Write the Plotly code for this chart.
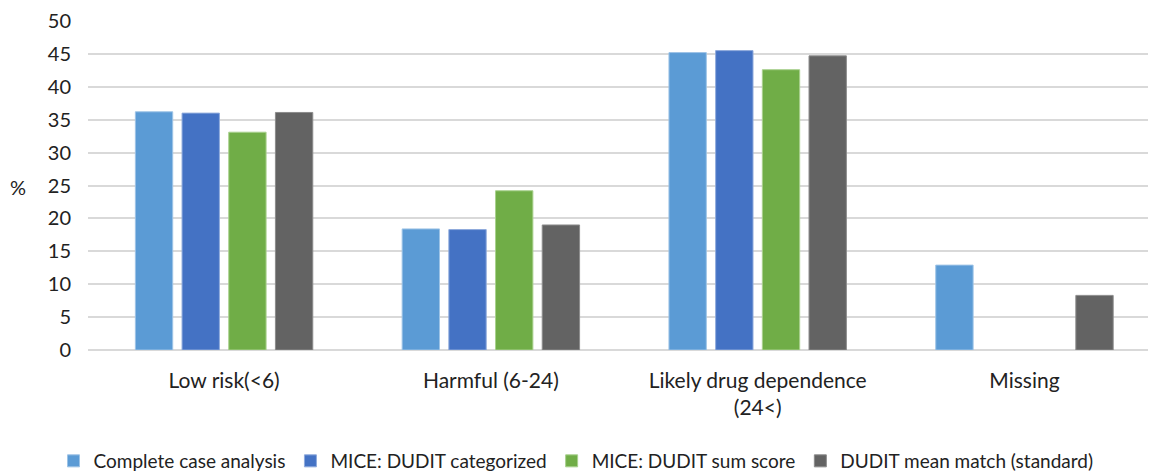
import plotly.graph_objects as go

categories = ["Low risk(<6)", "Harmful (6-24)", "Likely drug dependence<br>(24<)", "Missing"]
series_names = ["Complete case analysis", "MICE: DUDIT categorized", "MICE: DUDIT sum score", "DUDIT mean match (standard)"]
complete_case = [36.2, 18.4, 45.2, 12.9]
mice_categorized = [36.0, 18.3, 45.5, None]
mice_sum_score = [33.1, 24.2, 42.6, None]
mean_match = [36.1, 19.0, 44.7, 8.3]
colors = ["#5B9BD5", "#4472C4", "#70AD47", "#636363"]
edge_colors = ["#9DC3E6", "#8FAADC", "#A9D18E", "#8C8C8C"]
y_ticks = [0, 5, 10, 15, 20, 25, 30, 35, 40, 45, 50]

font_family = "Lato, Carlito, Calibri, sans-serif"

fig = go.Figure()
for name, vals, c, ec in zip(series_names, [complete_case, mice_categorized, mice_sum_score, mean_match], colors, edge_colors):
    fig.add_trace(go.Bar(x=categories, y=vals, name=name, marker=dict(color=c, line=dict(color=ec, width=1))))

plot_w = 1152 - 88 - 4
plot_h = 473 - 21 - 123

fig.update_layout(
    width=1152, height=473,
    barmode="group", bargap=0.3, bargroupgap=0.2,
    plot_bgcolor="white", paper_bgcolor="white",
    margin=dict(l=88, r=4, t=21, b=123, autoexpand=False),
    font=dict(family=font_family, size=20, color="#222222"),
    legend=dict(orientation="h", x=0.5, xanchor="center", xref="container",
                y=(473 - 461) / 473, yanchor="middle", yref="container",
                font=dict(size=19), itemwidth=30, tracegroupgap=0, itemclick=False),
    xaxis=dict(showgrid=False, showline=False, ticks="", tickfont=dict(size=21),
               ticklabelstandoff=16, range=[-0.51, 3.463]),
    yaxis=dict(range=[0, 50], tickvals=y_ticks, showgrid=True, gridcolor="#D9D9D9", gridwidth=1.5,
               zeroline=True, zerolinecolor="#D9D9D9", zerolinewidth=1.5, ticks="",
               ticklabelstandoff=16, tickfont=dict(size=20)),
    annotations=[dict(text="%", x=(18 - 88) / plot_w, y=(350 - 187) / plot_h,
                      xref="paper", yref="paper", showarrow=False,
                      xanchor="center", yanchor="middle", font=dict(size=20))],
)

fig.write_html("out.html", config={"displayModeBar": False},
               post_script="document.body.style.margin='0';document.body.style.overflow='hidden';")
